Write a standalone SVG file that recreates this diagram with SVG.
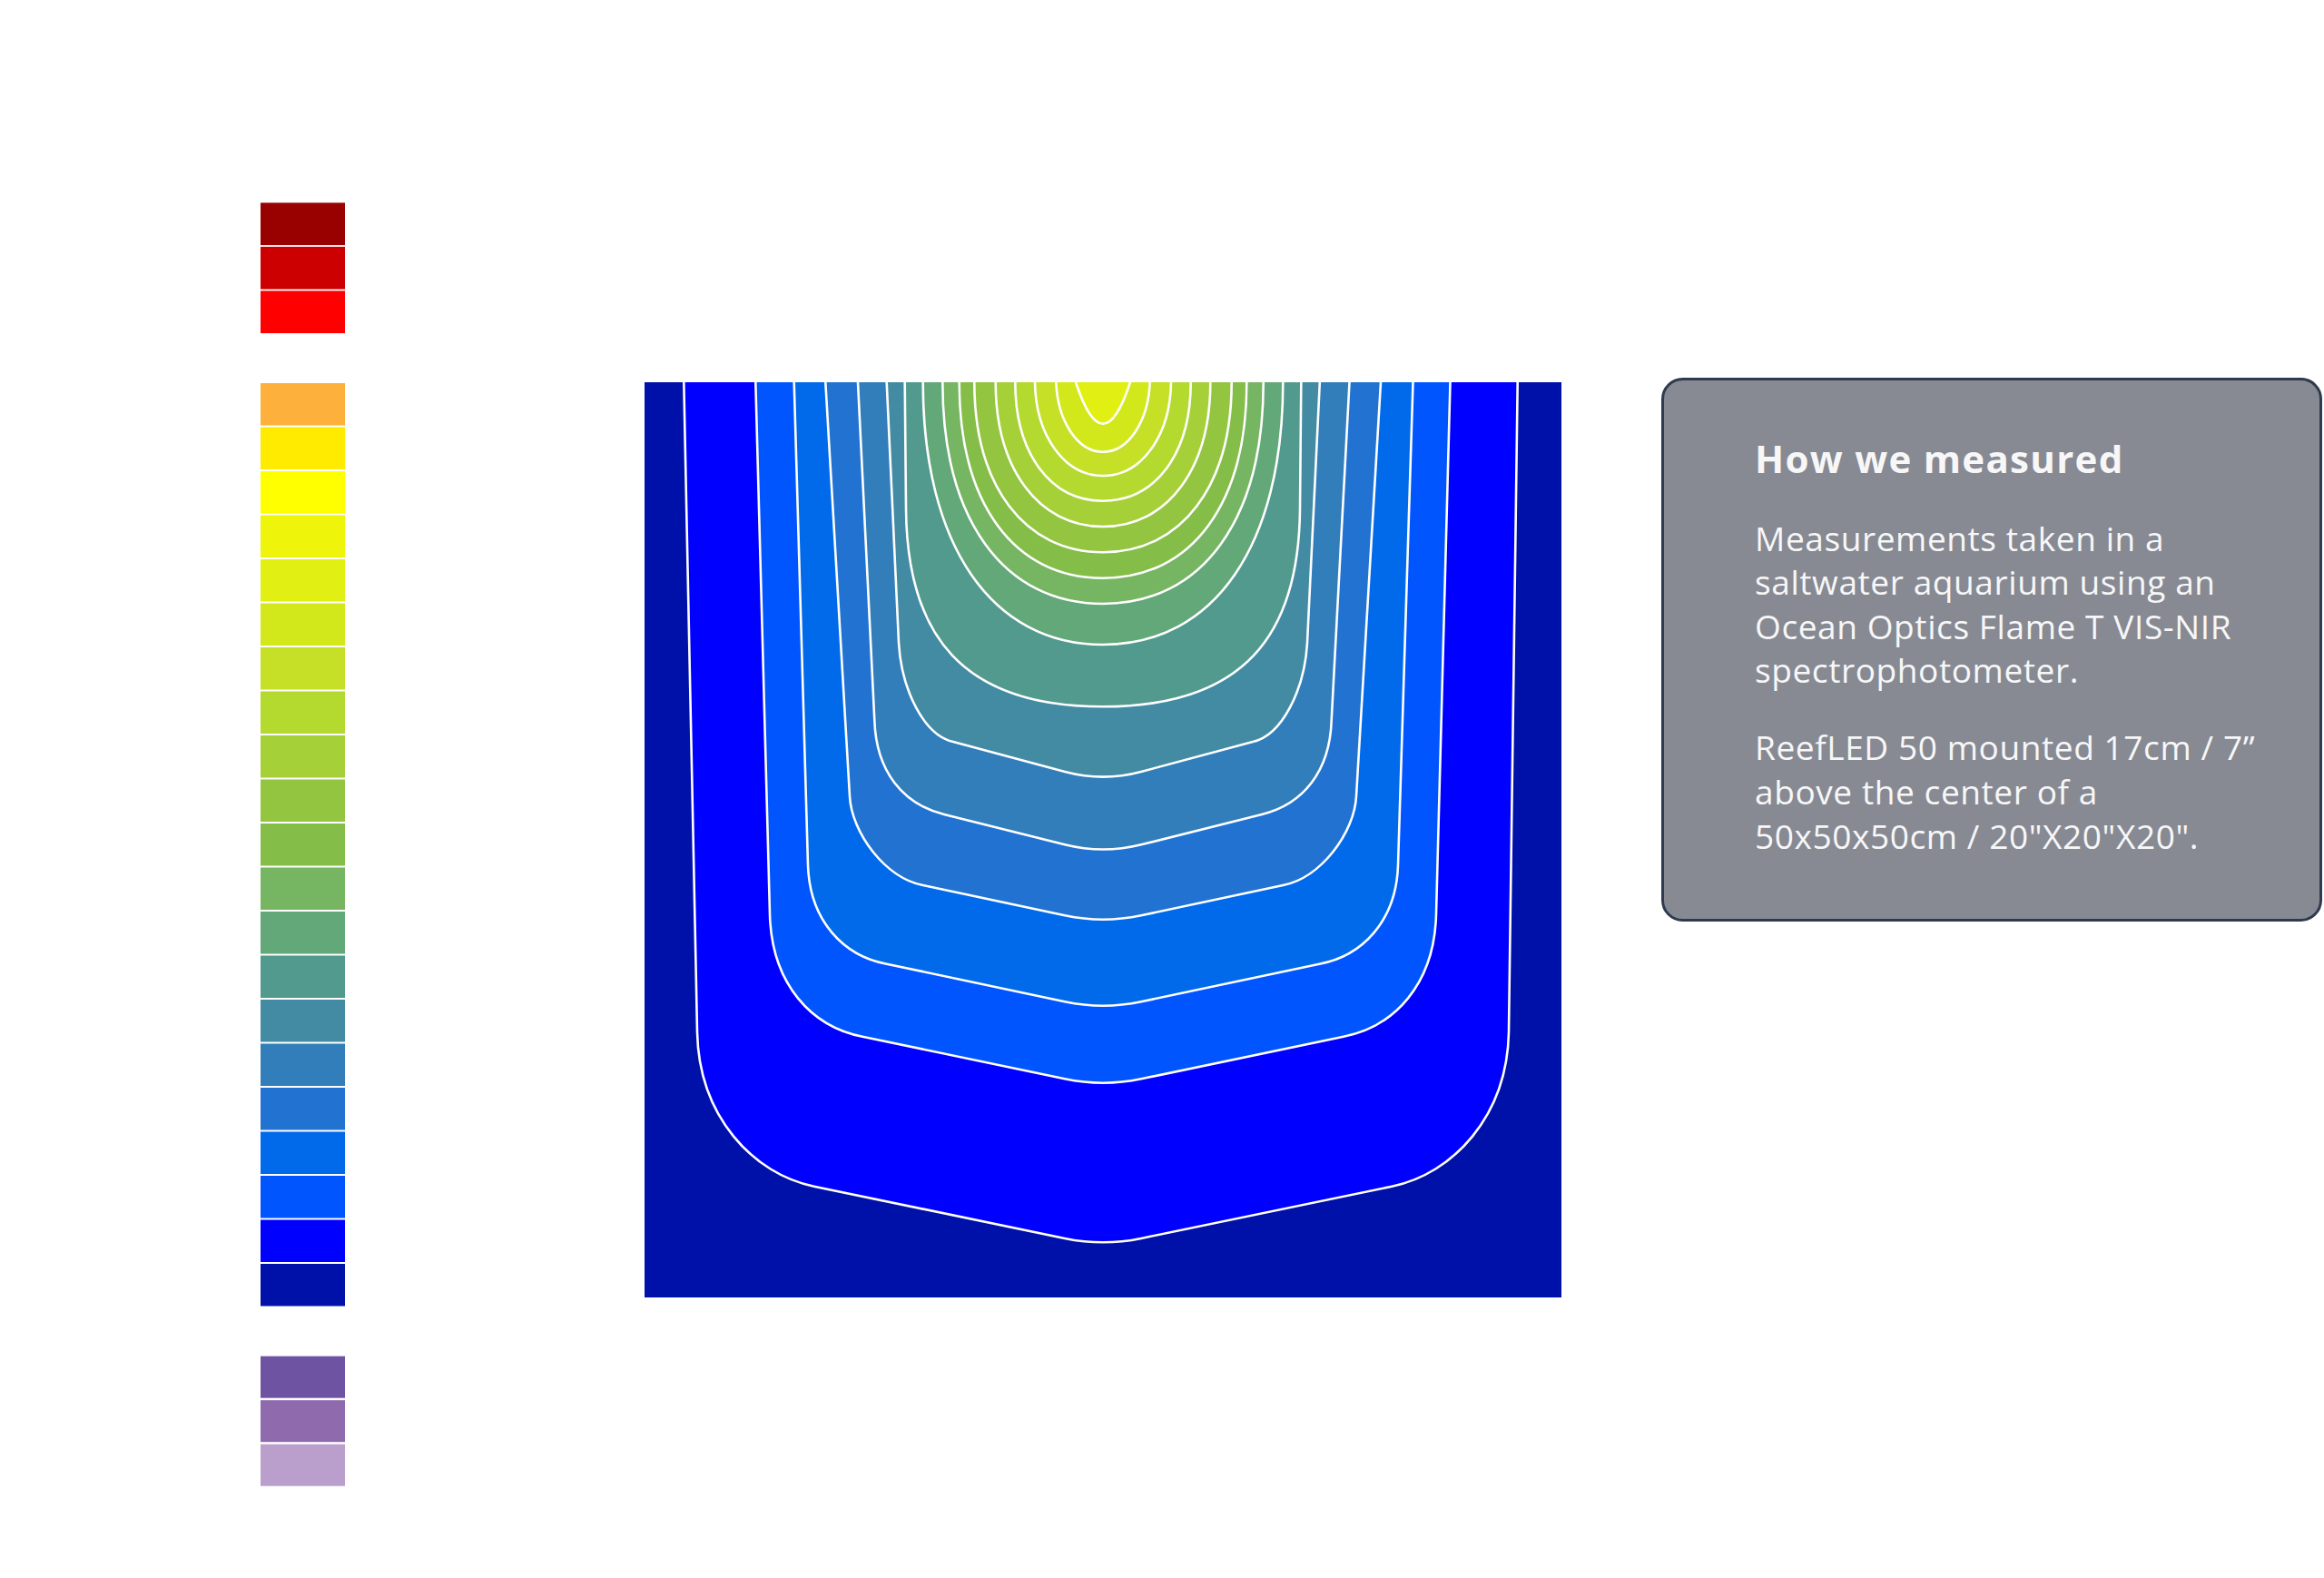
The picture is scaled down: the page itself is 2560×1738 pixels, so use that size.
<svg xmlns="http://www.w3.org/2000/svg" width="2560" height="1738" viewBox="0 0 2560 1738">
<defs>
<style>
.c{stroke:#ffffff;stroke-width:2.6;stroke-linejoin:round}
.t{font-family:"Open Sans","Noto Sans","Liberation Sans",sans-serif;fill:#f7f7f8}
.h{font-size:42px;font-weight:700;letter-spacing:1.3px}
.b{font-size:37px;letter-spacing:0.6px}
</style>
<clipPath id="plotclip"><rect x="710" y="421" width="1010" height="1008"/></clipPath>
</defs>
<rect width="2560" height="1738" fill="#ffffff"/>
<g id="colorbar">
<rect x="287" y="223.3" width="93" height="46.7" fill="#990000"/>
<rect x="287" y="271.8" width="93" height="46.7" fill="#CC0000"/>
<rect x="287" y="320.3" width="93" height="46.7" fill="#FF0000"/>
<rect x="287" y="422" width="93" height="46.5" fill="#FDB03C"/>
<rect x="287" y="470.5" width="93" height="46.5" fill="#FFEB00"/>
<rect x="287" y="519" width="93" height="46.5" fill="#FFFF00"/>
<rect x="287" y="567.5" width="93" height="46.5" fill="#EEF50A"/>
<rect x="287" y="616" width="93" height="46.5" fill="#E1F012"/>
<rect x="287" y="664.5" width="93" height="46.5" fill="#D3E81B"/>
<rect x="287" y="713" width="93" height="46.5" fill="#C5E026"/>
<rect x="287" y="761.5" width="93" height="46.5" fill="#B4DA30"/>
<rect x="287" y="810" width="93" height="46.5" fill="#A5D038"/>
<rect x="287" y="858.5" width="93" height="46.5" fill="#93C540"/>
<rect x="287" y="907" width="93" height="46.5" fill="#84BE48"/>
<rect x="287" y="955.5" width="93" height="46.5" fill="#76B562"/>
<rect x="287" y="1004" width="93" height="46.5" fill="#62A878"/>
<rect x="287" y="1052.5" width="93" height="46.5" fill="#529A8E"/>
<rect x="287" y="1101" width="93" height="46.5" fill="#428BA3"/>
<rect x="287" y="1149.5" width="93" height="46.5" fill="#317EBB"/>
<rect x="287" y="1198" width="93" height="46.5" fill="#2272D2"/>
<rect x="287" y="1246.5" width="93" height="46.5" fill="#006AEA"/>
<rect x="287" y="1295" width="93" height="46.5" fill="#0055FF"/>
<rect x="287" y="1343.5" width="93" height="46.5" fill="#0000FF"/>
<rect x="287" y="1392" width="93" height="46.5" fill="#0011AA"/>
<rect x="287" y="1493.7" width="93" height="46" fill="#6F53A3"/>
<rect x="287" y="1542.2" width="93" height="46" fill="#8F6AAD"/>
<rect x="287" y="1590.7" width="93" height="46" fill="#BA9ECB"/>
</g>
<g id="contour-plot">
<rect x="710" y="421" width="1010" height="1008" fill="#0011AA"/>
<g clip-path="url(#plotclip)">
<path id="L1" class="c" fill="#0000FF" d="M753.3,405 L753.3,421 L768,1137 C770,1230 830,1293 896.7,1306.7 L1173,1363.9 Q1215,1372.6 1257,1363.9 L1533.3,1306.7 C1600,1293 1660,1230 1662,1137 L1671.7,421 L1671.7,405 Z"/>
<path id="L2" class="c" fill="#0055FF" d="M832.3,405 L832.3,421 L848,1007 C850,1085 895,1131 950,1141.7 L1173,1188.3 Q1215,1197.1 1257,1188.3 L1480,1141.7 C1535,1131 1580,1085 1582,1007 L1597.5,421 L1597.5,405 Z"/>
<path id="L3" class="c" fill="#006AEA" d="M874.7,405 L874.7,421 L890,953 C892,1015 930,1053 976.7,1061.7 L1173,1103.3 Q1215,1112.2 1257,1103.3 L1453.3,1061.7 C1500,1053 1538,1015 1540,953 L1556.5,421 L1556.5,405 Z"/>
<path id="L4" class="c" fill="#2272D2" d="M909.3,405 L909.3,421 L936,877 C938,917 975,967 1016.7,975 L1173,1008.3 Q1215,1017.2 1257,1008.3 L1413.3,975 C1455,967 1492,917 1494,877 L1521,421 L1521,405 Z"/>
<path id="L5" class="c" fill="#317EBB" d="M945,405 L945,421 L963.3,793.3 C965,850 995,886 1040,897 L1173,930.3 Q1215,940.8 1257,930.3 L1390,897 C1435,886 1465,850 1466.7,793.3 L1486.5,421 L1486.5,405 Z"/>
<path id="L6" class="c" fill="#428BA3" d="M976.7,405 L976.7,421 L990,708 C993,760 1018,810 1050,817 L1173,850 Q1215,861.3 1257,850 L1380,817 C1412,810 1437,760 1440,708 L1453.8,421 L1453.8,405 Z"/>
<path id="L7" class="c" fill="#529A8E" d="M996.7,405 L996.7,421 L998,560 C999,700 1060,778.3 1215,778.3 C1370,778.3 1431,700 1432,560 L1433.3,421 L1433.3,405 Z"/>
<path id="L8" class="c" fill="#62A878" d="M1016.7,405 L1016.7,421 C1016.7,600.2 1092.1,710 1215,710 C1337.9,710 1413.3,600.2 1413.3,421 L1413.3,405 Z"/>
<path id="L9" class="c" fill="#76B562" d="M1038.3,405 L1038.3,421 C1038.3,572.3 1105.4,665 1215,665 C1324.6,665 1391.7,572.3 1391.7,421 L1391.7,405 Z"/>
<path id="L10" class="c" fill="#84BE48" d="M1056.7,405 L1056.7,421 C1056.7,554.7 1116.9,636.7 1215,636.7 C1313.1,636.7 1373.3,554.7 1373.3,421 L1373.3,405 Z"/>
<path id="L11" class="c" fill="#93C540" d="M1073.3,405 L1073.3,421 C1073.3,535.3 1128.6,608.3 1215,608.3 C1301.4,608.3 1356.7,535.3 1356.7,421 L1356.7,405 Z"/>
<path id="L12" class="c" fill="#A5D038" d="M1096.7,405 L1096.7,421 C1096.7,516.4 1144,580 1215,580 C1286,580 1333.3,516.4 1333.3,421 L1333.3,405 Z"/>
<path id="L13" class="c" fill="#B4DA30" d="M1118.3,405 L1118.3,421 C1118.3,499.4 1157,551.7 1215,551.7 C1273,551.7 1311.7,499.4 1311.7,421 L1311.7,405 Z"/>
<path id="L14" class="c" fill="#C5E026" d="M1140,405 L1140,421 C1141,479.7 1172.3,524 1215,524 C1257.7,524 1289,479.7 1290,421 L1290,405 Z"/>
<path id="L15" class="c" fill="#D3E81B" d="M1163.3,405 L1163.3,421 C1165,463.2 1186.6,497.7 1215,497.7 C1243.4,497.7 1265,463.2 1266.7,421 L1266.7,405 Z"/>
<path id="L16" class="c" fill="#E1F012" d="M1185,405 L1185,421 Q1200,466.7 1215,466.7 Q1230,466.7 1245,421 L1245,405 Z"/>
</g>
</g>
<g id="info-box">
<rect x="1831.5" y="417.5" width="725" height="596" rx="22" ry="22" fill="#878A93" stroke="#2E3A4E" stroke-width="3"/>
<text class="t h" x="1933" y="521">How we measured</text>
<text class="t b" x="1933" y="606.5">Measurements taken in a</text>
<text class="t b" x="1933" y="655">saltwater aquarium using an</text>
<text class="t b" x="1933" y="703.5">Ocean Optics Flame T VIS-NIR</text>
<text class="t b" x="1933" y="752">spectrophotometer.</text>
<text class="t b" x="1933" y="837">ReefLED 50 mounted 17cm / 7”</text>
<text class="t b" x="1933" y="886">above the center of a</text>
<text class="t b" x="1933" y="935">50x50x50cm / 20"X20"X20".</text>
</g>
</svg>
